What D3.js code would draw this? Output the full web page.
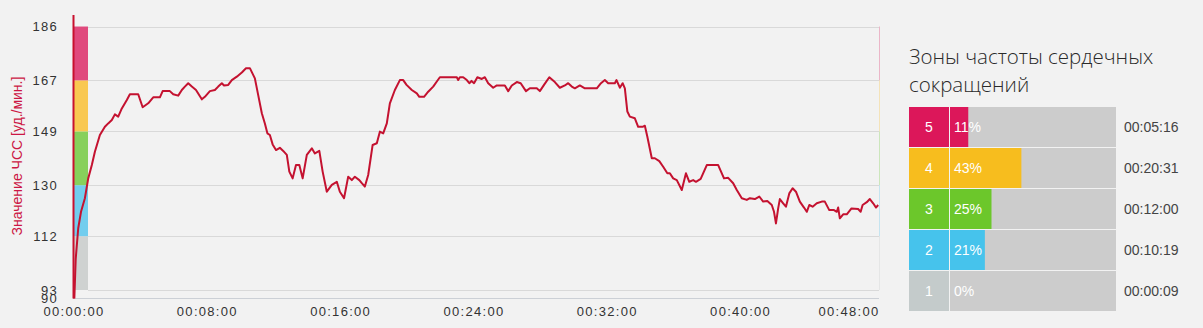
<!DOCTYPE html>
<html>
<head>
<meta charset="utf-8">
<script src="https://cdnjs.cloudflare.com/ajax/libs/d3/7.8.5/d3.min.js"></script>
<style>
  html, body { margin: 0; padding: 0; background: #f2f2f2; }
  .tick text { font-family: 'Liberation Sans', Arial, sans-serif; font-size: 13px; fill: #333; letter-spacing: 1.3px; }
  .yTitle { font-family: 'Liberation Sans', Arial, sans-serif; font-size: 14px; fill: #cc1744; }
  .legendTitle { font-family: 'Open Sans', sans-serif; font-weight: 300; font-size: 20.5px; fill: #2a2a2a; }
  .legendText { font-family: 'Liberation Sans', Arial, sans-serif; font-size: 14px; }
</style>
</head>
<body>
<div id="chart"></div>
<script>

//////////////////////////////////////////////////////////////
///////////////////////// Data ///////////////////////////////
//////////////////////////////////////////////////////////////

//Heart rate samples: [seconds from start, bpm]
var hrTime = [3,8,17,27,41,53,66,77,95,113,125,138,149,161,174,192,203,233,249,269,287,311,321,347,359,377,390,401,413,426,441,462,473,491,509,521,534,542,557,570,588,606,621,635,653,665,678,689,698,707,717,729,743,755,768,777,789,801,813,825,840,858,869,885,897,912,930,948,959,974,989,1002,1013,1029,1038,1049,1061,1077,1092,1103,1115,1128,1139,1157,1175,1187,1199,1218,1236,1245,1262,1277,1295,1308,1319,1380,1385,1391,1403,1416,1425,1433,1442,1454,1470,1481,1493,1511,1524,1553,1565,1578,1596,1610,1629,1643,1668,1679,1694,1713,1733,1751,1769,1781,1794,1805,1823,1841,1884,1899,1913,1925,1949,1955,1967,1977,1985,1994,2003,2021,2033,2049,2057,2066,2082,2093,2109,2123,2138,2147,2159,2172,2190,2205,2217,2231,2241,2258,2280,2321,2342,2357,2375,2388,2406,2424,2435,2453,2469,2483,2498,2514,2522,2529,2537,2543,2555,2565,2577,2589,2601,2615,2630,2640,2649,2661,2676,2694,2705,2721,2738,2748,2753,2759,2771,2784,2801,2825,2834,2841,2856,2867,2879,2889,2897];
var hrValue = [90,104,114.8,120.6,125.4,132.4,137.1,141.8,147.7,150.6,151.8,153,155,154.2,157.1,160.1,162.1,162.1,157.5,158.9,161,161,163.2,163.2,162.1,161.6,163.6,164.8,166,164.8,163.6,160.3,161.2,163.2,163.6,164.8,166,165.2,165.4,167.1,168.3,169.8,171.3,171.3,167.7,161.8,155.4,151.8,148.3,147.7,144.4,142.4,143.2,142.1,140.7,134.8,132.4,137.1,137.1,132.4,140.7,143,141.2,142.1,134.8,127.7,130.1,131.2,127.7,125.4,133,131.8,133,131.8,130.7,129.5,133.6,144.2,144.8,148.9,148.3,151.8,158.9,163.6,167.1,167.1,165.4,163.6,162.4,161.2,161.2,163,164.8,166.6,168.1,168.1,167.1,168.1,168.1,167.1,166,166.8,166,168.1,167.5,168.1,166,164.4,165.2,165.2,163.2,165.2,166.4,166,163.2,164.2,164.2,163.2,165.4,168.1,166.4,164.4,165.2,166,164.8,164.2,165.2,164.2,164.2,166,167.1,166,166,167.1,164.4,166,164.2,156,154.2,153.6,150.6,150.6,151,147.1,139.5,139.5,138.5,136.5,134.2,134.2,132.4,131.8,128.3,134.2,131.2,131.8,131.2,132.2,137.1,137.1,132.4,132.6,130.7,128.3,125.4,124.8,125.4,125.1,126,124.2,124.4,123,120.6,116.5,121.8,125.1,123.6,122.4,127.1,128.9,127.7,124.2,122.1,120.6,123,122.4,123.6,124.2,124.2,121.2,121.2,120.6,122.1,118.3,119.7,119.7,121.8,121.6,120.6,123,124,125.1,123.6,122.1,123];

//Zone boundaries (bpm) and y tick values
var zoneBounds = [93, 112, 130, 149, 167, 186];
var yTicks = [90, 93, 112, 130, 149, 167, 186];
//X ticks in seconds
var xTicks = [0, 480, 960, 1440, 1920, 2400, 2880];

//Legend
var zoneNames = ["5", "4", "3", "2", "1"];
var zonePercent = [11, 43, 25, 21, 0];
var zoneTimes = ["00:05:16", "00:20:31", "00:12:00", "00:10:19", "00:00:09"];
var legendColors = ["#dc175a", "#f7bd1e", "#6cc72b", "#46c3ec", "#c4cbcb"];
//Band colors in the plot, from zone 1 (bottom) to zone 5 (top)
var bandColors = ["#cfd2d1", "#72cdee", "#87d05b", "#f9c851", "#e04a7d"];

//////////////////////////////////////////////////////////////
////////////////////// Set up svg ////////////////////////////
//////////////////////////////////////////////////////////////

var width = 1203, height = 328;

var svg = d3.select("#chart").append("svg")
  .attr("width", width)
  .attr("height", height);

var x = d3.scaleLinear().domain([0, 2900]).range([73.5, 879]);
var y = d3.scaleLinear().domain([90, 190]).range([298.5, 15.2]);

var plotRight = 879;

//Gridlines
svg.append("g").selectAll("line")
  .data(zoneBounds)
  .enter().append("line")
  .attr("x1", 88).attr("x2", plotRight)
  .attr("y1", function(d) { return Math.round(y(d)) + 0.5; })
  .attr("y2", function(d) { return Math.round(y(d)) + 0.5; })
  .style("stroke", "#d9d9d9")
  .style("stroke-width", 1);

//Bottom axis line
svg.append("line")
  .attr("x1", 73).attr("x2", plotRight)
  .attr("y1", 298.5).attr("y2", 298.5)
  .style("stroke", "#ccd0d6");

//Zone bands next to the y axis
var bands = d3.range(zoneBounds.length - 1).map(function(i) {
  return { lo: zoneBounds[i], hi: zoneBounds[i + 1], color: bandColors[i] };
});

svg.append("g").selectAll("rect")
  .data(bands)
  .enter().append("rect")
  .attr("x", 74)
  .attr("width", 14)
  .attr("y", function(d) { return y(d.hi); })
  .attr("height", function(d) { return y(d.lo) - y(d.hi); })
  .style("fill", function(d) { return d.color; });

//Faint coloured right border
svg.append("g").selectAll("line")
  .data(bands)
  .enter().append("line")
  .attr("x1", plotRight + 0.5).attr("x2", plotRight + 0.5)
  .attr("y1", function(d) { return y(d.hi); })
  .attr("y2", function(d) { return y(d.lo); })
  .style("stroke", function(d) { return d.color; })
  .style("opacity", 0.35);

//Y axis
var yAxis = d3.axisLeft(y)
  .tickValues(yTicks)
  .tickSize(0)
  .tickPadding(15)
  .tickFormat(d3.format("d"));

svg.append("g")
  .attr("transform", "translate(73,0)")
  .call(yAxis)
  .call(function(g) { g.select(".domain").remove(); });

//Red y axis line
svg.append("line")
  .attr("x1", 73.5).attr("x2", 73.5)
  .attr("y1", 15).attr("y2", 298.5)
  .style("stroke", "#c8102e")
  .style("stroke-width", 2);

//X axis
function fmtTime(s) {
  var h = Math.floor(s / 3600), m = Math.floor((s % 3600) / 60), sec = s % 60;
  return d3.format("02d")(h) + ":" + d3.format("02d")(m) + ":" + d3.format("02d")(sec);
}

var xAxis = d3.axisBottom(x)
  .tickValues(xTicks)
  .tickSize(0)
  .tickPadding(9)
  .tickFormat(fmtTime);

var xg = svg.append("g")
  .attr("transform", "translate(0,298)")
  .call(xAxis)
  .call(function(g) { g.select(".domain").remove(); });

//Last label is kept inside the plot
xg.selectAll(".tick").filter(function(d) { return d === 2880; })
  .select("text")
  .attr("text-anchor", "end")
  .attr("x", plotRight - x(2880));

//Y axis title
svg.append("text")
  .attr("class", "yTitle")
  .attr("transform", "translate(22,156) rotate(-90)")
  .attr("text-anchor", "middle")
  .text("Значение ЧСС [уд./мин.]");

//Heart rate line
var hrData = hrTime.map(function(t, i) { return { t: t, v: hrValue[i] }; });

var line = d3.line()
  .x(function(d) { return x(d.t); })
  .y(function(d) { return y(d.v); });

svg.append("path")
  .datum(hrData)
  .attr("d", line)
  .style("fill", "none")
  .style("stroke", "#c41230")
  .style("stroke-width", 2)
  .style("stroke-linejoin", "round");

//////////////////////////////////////////////////////////////
//////////////////////// Legend //////////////////////////////
//////////////////////////////////////////////////////////////

var legend = svg.append("g").attr("transform", "translate(909,0)");

legend.append("text")
  .attr("class", "legendTitle")
  .attr("x", 0).attr("y", 64)
  .text("Зоны частоты сердечных");
legend.append("text")
  .attr("class", "legendTitle")
  .attr("x", 0).attr("y", 92)
  .text("сокращений");

var barScale = d3.scaleLinear().domain([0, 100]).range([0, 166]);

var rows = legend.selectAll(".row")
  .data(zoneNames)
  .enter().append("g")
  .attr("class", "row")
  .attr("transform", function(d, i) { return "translate(0," + (107 + i * 41) + ")"; });

rows.append("rect")
  .attr("width", 40).attr("height", 40)
  .style("fill", function(d, i) { return legendColors[i]; });

rows.append("rect")
  .attr("x", 41).attr("width", 166).attr("height", 40)
  .style("fill", "#cccccc");

rows.append("rect")
  .attr("x", 41).attr("height", 40)
  .attr("width", function(d, i) { return barScale(zonePercent[i]); })
  .style("fill", function(d, i) { return legendColors[i]; });

rows.append("text")
  .attr("class", "legendText")
  .attr("x", 20).attr("y", 25)
  .attr("text-anchor", "middle")
  .style("fill", "#fff")
  .text(function(d) { return d; });

rows.append("text")
  .attr("class", "legendText")
  .attr("x", 45).attr("y", 25)
  .style("fill", "#fff")
  .text(function(d, i) { return zonePercent[i] + "%"; });

rows.append("text")
  .attr("class", "legendText")
  .attr("x", 215).attr("y", 25)
  .style("fill", "#444")
  .text(function(d, i) { return zoneTimes[i]; });

</script>
</body>
</html>
